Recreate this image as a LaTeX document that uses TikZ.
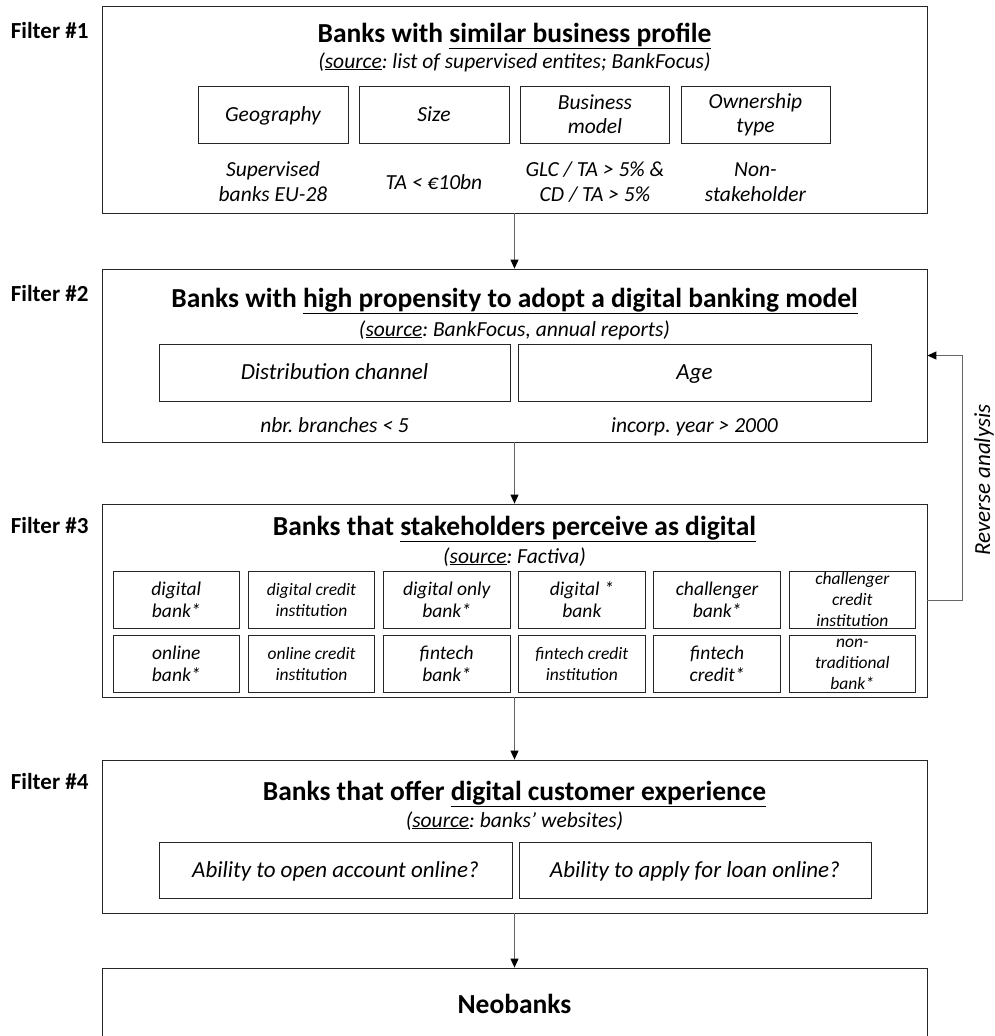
\documentclass[tikz,border=0pt]{standalone}
\usepackage{fontspec}
\setmainfont{Carlito}
\usetikzlibrary{arrows.meta}
\frenchspacing

\begin{document}
\begin{tikzpicture}[x=1pt,y=-1pt,
  stage/.style={draw=black!85, line width=0.8pt, inner sep=0pt, minimum width=825pt},
  crit/.style={draw=black!85, line width=0.8pt, inner sep=0pt, align=center, minimum height=57pt, font=\fontsize{21.5}{24}\selectfont\itshape},
  wide/.style={font=\fontsize{23}{27}\selectfont\itshape},
  one/.style={text height=18pt, text depth=3.6pt},
  cell/.style={draw=black!85, line width=0.8pt, inner sep=0pt, minimum width=126.5pt, minimum height=57pt, align=center, font=\fontsize{19.5}{22}\selectfont\itshape},
  small/.style={font=\fontsize{17.5}{21}\selectfont\itshape},
  ttl/.style={anchor=base, font=\fontsize{27.5}{33}\selectfont\bfseries},
  src/.style={anchor=base, font=\fontsize{21.5}{26}\selectfont\itshape},
  note/.style={align=center, font=\fontsize{21.5}{25}\selectfont\itshape},
  flabel/.style={anchor=base east, font=\fontsize{23}{28}\selectfont\bfseries},
  flow/.style={black!60, line width=0.9pt, -{Triangle[length=9pt, width=8pt, color=black]}}
]
\useasboundingbox (0,0) rectangle (995,1036);

% filter 1
\node[flabel] (l1) at (92,38) {Filter \#1};
\node[stage, minimum height=207pt] (f1) at (514.5,109.5) {};
\node[ttl] (t1) at (514.5,42) {Banks with \underline{similar business profile}};
\node[src] (s1) at (514.5,68) {(\underline{source}: list of supervised entites; BankFocus)};
\node[crit, one, minimum width=150pt] (geo) at (273,114.5) {Geography};
\node[crit, one, minimum width=150pt] (size) at (434,114.5) {Size};
\node[crit, minimum width=149pt] (bmod) at (595,114.5) {Business\\model};
\node[crit, minimum width=149pt] (own) at (755.5,114.5) {Ownership\\type};
\node[note] (geo-v) at (273,182) {Supervised\\banks EU-28};
\node[note, one] (size-v) at (434,182) {TA < €10bn};
\node[note] (bmod-v) at (595,182) {GLC / TA > 5\% \&\\CD / TA > 5\%};
\node[note] (own-v) at (755.5,182) {Non-\\stakeholder};

% filter 2
\node[flabel] (l2) at (92,301) {Filter \#2};
\node[stage, minimum height=173pt] (f2) at (514.5,355.5) {};
\node[ttl] (t2) at (514.5,307) {Banks with \underline{high propensity to adopt a digital banking model}};
\node[src] (s2) at (514.5,336) {(\underline{source}: BankFocus, annual reports)};
\node[crit, wide, one, minimum width=351pt] (dist) at (334.5,372.5) {Distribution channel};
\node[crit, wide, one, minimum width=353pt] (age) at (694.5,372.5) {Age};
\node[note, one] (dist-v) at (334.5,425) {nbr. branches < 5};
\node[note, one] (age-v) at (694.5,425) {incorp. year > 2000};

% filter 3
\node[flabel] (l3) at (92,533) {Filter \#3};
\node[stage, minimum height=193pt] (f3) at (514.5,600.5) {};
\node[ttl] (t3) at (514.5,535) {Banks that \underline{stakeholders perceive as digital}};
\node[src] (s3) at (514.5,563) {(\underline{source}: Factiva)};
\node[cell] (c11) at (176.3,599.5) {digital\\bank*};
\node[cell, small] (c12) at (311.5,599.5) {digital credit\\institution};
\node[cell] (c13) at (446.7,599.5) {digital only\\bank*};
\node[cell] (c14) at (581.9,599.5) {digital *\\bank};
\node[cell] (c15) at (717.1,599.5) {challenger\\bank*};
\node[cell, small] (c16) at (852.3,599.5) {challenger\\credit\\institution};
\node[cell] (c21) at (176.3,664) {online\\bank*};
\node[cell, small] (c22) at (311.5,664) {online credit\\institution};
\node[cell] (c23) at (446.7,664) {fintech\\bank*};
\node[cell, small] (c24) at (581.9,664) {fintech credit\\institution};
\node[cell] (c25) at (717.1,664) {fintech\\credit*};
\node[cell, small] (c26) at (852.3,664) {non-\\traditional\\bank*};

% filter 4
\node[flabel] (l4) at (92,789) {Filter \#4};
\node[stage, minimum height=153pt] (f4) at (514.5,836.5) {};
\node[ttl] (t4) at (514.5,800) {Banks that offer \underline{digital customer experience}};
\node[src] (s4) at (514.5,827) {(\underline{source}: banks’ websites)};
\node[crit, wide, one, minimum width=353pt, minimum height=56pt] (acct) at (335.5,870) {Ability to open account online?};
\node[crit, wide, one, minimum width=352pt, minimum height=56pt] (loan) at (695,870) {Ability to apply for loan online?};

% result
\node[stage, minimum height=77pt] (neo) at (514.5,1006.5) {};
\node[ttl] (t5) at (514.5,1013) {Neobanks};

% arrows
\draw[flow] (f1) -- (f2);
\draw[flow] (f2) -- (f3);
\draw[flow] (f3) -- (f4);
\draw[flow] (f4) -- (neo);
\draw[flow] (f3.east) -- ++(35,0) |- (f2.east);
\node[rotate=90, font=\fontsize{23}{27}\selectfont\itshape] (rev) at (984,480) {Reverse analysis};
\end{tikzpicture}
\end{document}
